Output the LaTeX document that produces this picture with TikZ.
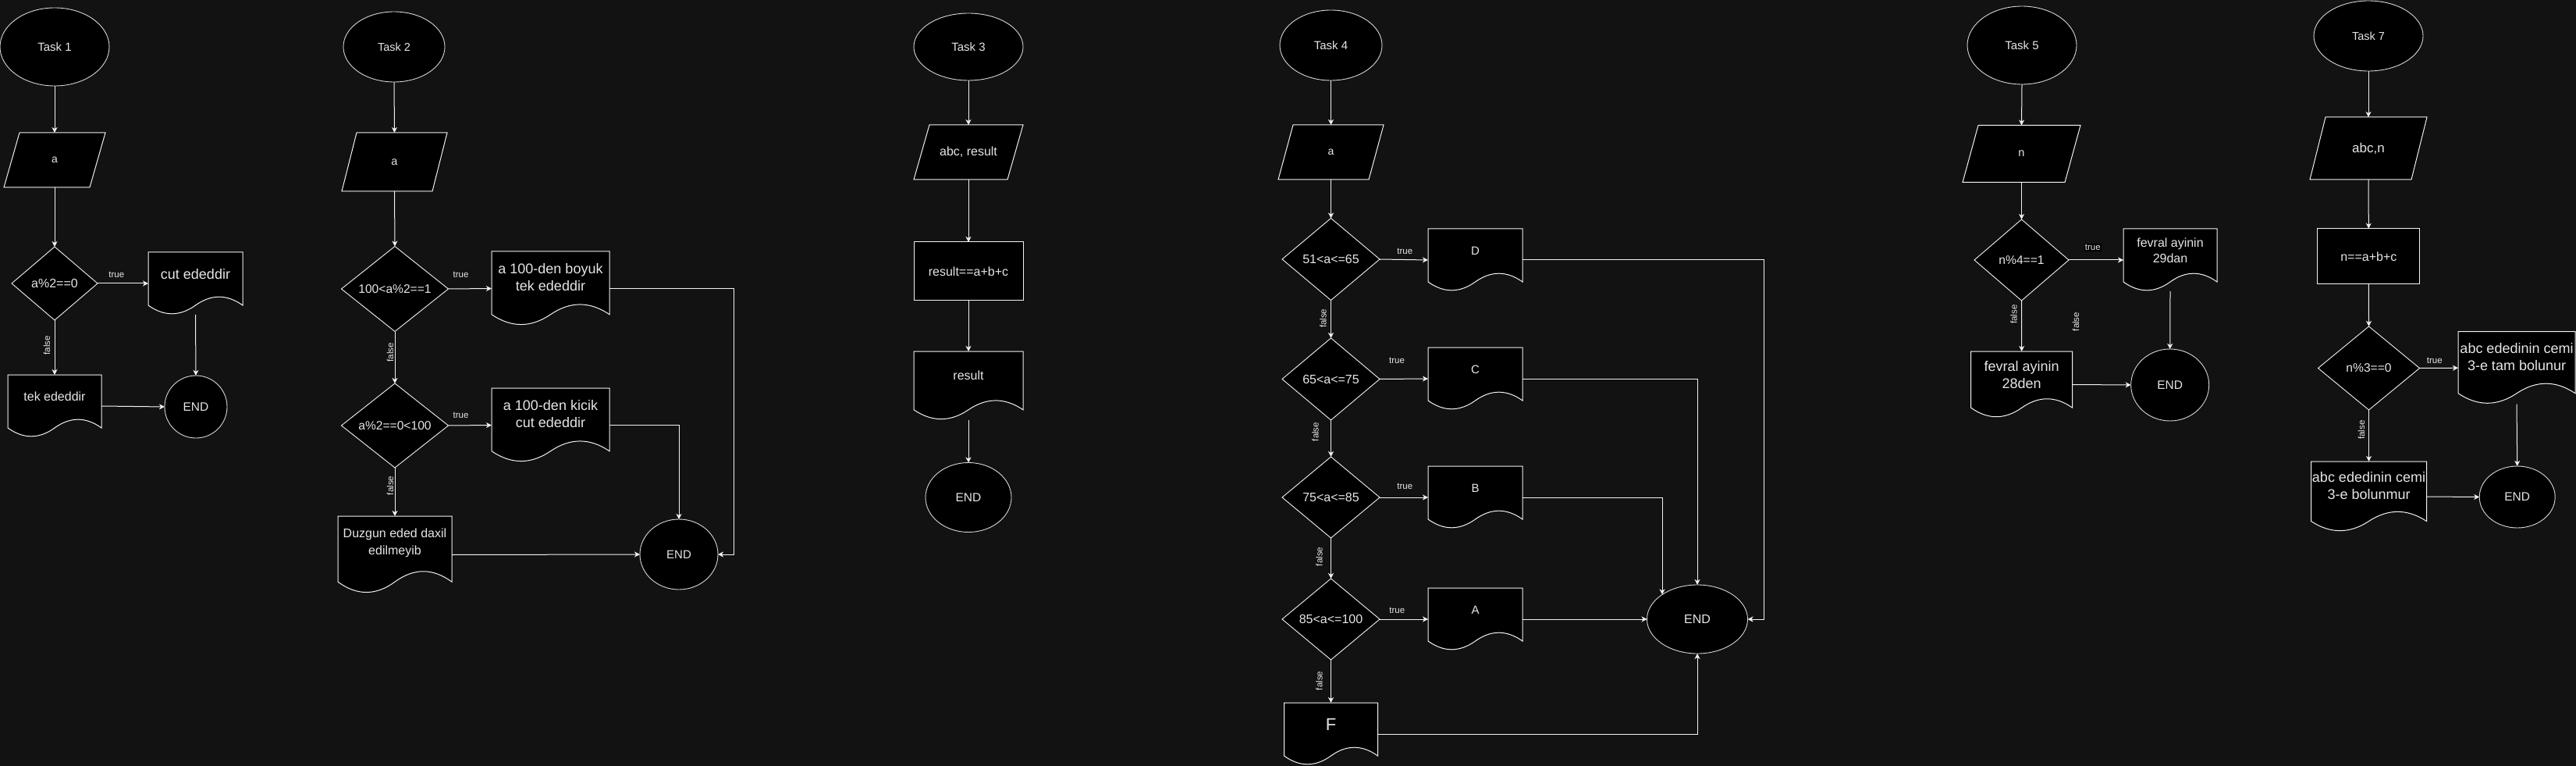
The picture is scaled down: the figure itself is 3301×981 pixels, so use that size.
\documentclass[tikz,border=0pt]{standalone}
\usepackage{fontspec}
\setmainfont{Liberation Sans}
\usetikzlibrary{shapes.geometric,arrows.meta,calc}
\pgfdeclarelayer{bgpage}
\pgfdeclarelayer{behind}
\pgfsetlayers{bgpage,behind,main}
\definecolor{bgc}{HTML}{121212}
\definecolor{ln}{HTML}{F2F2F2}
\definecolor{txt}{HTML}{E6E6E6}
\definecolor{elln}{HTML}{D6D6D6}
\tikzset{
  base/.style={fill=black, text=txt, inner sep=0pt, outer sep=0pt, align=center},
  term/.style={base, ellipse, draw=elln, line width=0.9pt},
  proc/.style={base, rectangle, draw=ln, line width=1pt},
  dec/.style={base, diamond, aspect=1.3, draw=ln, line width=0.9pt},
  docbox/.style={inner sep=0pt, outer sep=0pt, draw=none, fill=none},
  iobox/.style={text=txt, inner sep=0pt, outer sep=0pt, draw=none, fill=none, align=center},
  doctext/.style={text=txt, inner sep=0pt, align=center},
  docline/.style={draw=ln, fill=black, line width=1pt},
  ioline/.style={draw=ln, fill=black, line width=1pt, line join=miter},
  arr/.style={draw=ln, line width=1pt, -{Stealth[length=7pt,width=7pt,inset=2pt]}},
  lbl/.style={text=txt, inner sep=0pt, font=\fontsize{11.5}{13}\selectfont},
  vlbl/.style={lbl, rotate=90},
}
\newcommand\docnode[8]{%
  \node[docbox, minimum width=#4pt, minimum height=#5pt] (#1) at (#2,{#3+#5/2}) {};
  \node[doctext, font=\fontsize{#6}{#7}\selectfont] (#1t) at (#2,{#3+0.35*#5}) {#8};
  \begin{pgfonlayer}{behind}
  \draw[docline] ({#2-#4/2},#3) -- ({#2+#4/2},#3) -- ({#2+#4/2},{#3+0.85*#5})
    .. controls ({#2+#4/3},{#3+0.67*#5}) and ({#2+#4/6},{#3+0.67*#5}) .. (#2,{#3+0.85*#5})
    .. controls ({#2-#4/6},{#3+1.03*#5}) and ({#2-#4/3},{#3+1.03*#5}) .. ({#2-#4/2},{#3+0.85*#5}) -- cycle;
  \end{pgfonlayer}}
\newcommand\ionode[8]{%
  \node[iobox, minimum width=#4pt, minimum height=#5pt, font=\fontsize{#7}{20}\selectfont] (#1) at (#2,#3) {#8};
  \begin{pgfonlayer}{behind}
  \draw[ioline] ({#2-#4/2+#6},{#3-#5/2}) -- ({#2+#4/2},{#3-#5/2}) -- ({#2+#4/2-#6},{#3+#5/2}) -- ({#2-#4/2},{#3+#5/2}) -- cycle;
  \end{pgfonlayer}}
\begin{document}
\begin{tikzpicture}[x=1pt,y=-1pt]
\begin{pgfonlayer}{bgpage}
\fill[bgc] (0,0) rectangle (3301,981);
\end{pgfonlayer}
\useasboundingbox (0,0) rectangle (3301,981);

% ---------------- Task 1
\node[term, minimum width=140pt, minimum height=100pt, font=\fontsize{15}{18}\selectfont] (s1) at (70,60) {Task 1};
\ionode{i1}{70}{205}{130}{70}{20}{14}{a}
\node[dec, minimum width=110pt, minimum height=94pt, font=\fontsize{16}{19}\selectfont] (d1) at (70,363) {a\%2==0};
\docnode{c1}{250.5}{323}{121}{80}{18}{22}{cut ededdir}
\docnode{k1}{70}{480}{120}{80}{16}{19}{tek ededdir}
\node[term, minimum width=80pt, minimum height=80pt, font=\fontsize{15.5}{18}\selectfont] (e1) at (251,521) {END};
\draw[arr] (s1.south) -- (i1.north);
\draw[arr] (i1.south) -- (d1.north);
\draw[arr] (d1.east) -- node[lbl, pos=0.375, yshift=11pt] (l1a) {true} (c1.west);
\draw[arr] (d1.south) -- node[xshift=-10pt, vlbl, pos=0.46] (l1b) {false} (k1.north);
\draw[arr] (c1.south) -- (e1.north);
\draw[arr] (k1.east) -- (e1.west);

% ---------------- Task 2
\coordinate (t2r) at (940,0);
\node[term, minimum width=130pt, minimum height=90pt, font=\fontsize{14.5}{18}\selectfont] (s2) at (505,60) {Task 2};
\ionode{i2}{505.5}{207.5}{135}{75}{19}{14.5}{a}
\node[dec, minimum width=137pt, minimum height=109pt, font=\fontsize{15.6}{19}\selectfont] (d2a) at (506,370) {100<a\%2==1};
\node[dec, minimum width=137pt, minimum height=108pt, font=\fontsize{15.6}{19}\selectfont] (d2b) at (506,545) {a\%2==0<100};
\docnode{p2a}{705.5}{322}{151}{95}{18}{22}{a 100-den boyuk\\tek ededdir}
\docnode{p2b}{705.5}{497}{151}{95}{18}{22}{a 100-den kicik\\cut ededdir}
\docnode{p2c}{506}{661}{146}{99}{16}{22}{Duzgun eded daxil\\edilmeyib}
\node[term, minimum width=100pt, minimum height=90pt, font=\fontsize{15}{18}\selectfont] (e2) at (870,710) {END};
\draw[arr] (s2.south) -- (i2.north);
\draw[arr] (i2.south) -- (d2a.north);
\draw[arr] (d2a.east) -- node[lbl, pos=0.29, yshift=18pt] (l2a) {true} (p2a.west);
\draw[arr] (d2a.south) -- node[xshift=-6pt, vlbl, pos=0.4] (l2b) {false} (d2b.north);
\draw[arr] (d2b.east) -- node[lbl, pos=0.29, yshift=13pt] (l2c) {true} (p2b.west);
\draw[arr] (d2b.south) -- node[xshift=-6pt, vlbl, pos=0.37] (l2d) {false} (p2c.north);
\draw[arr] (p2a.east) -- (p2a.east -| t2r) -- (t2r |- e2.east) -- (e2.east);
\draw[arr] (p2b.east) -| (e2.north);
\draw[arr] (p2c.east) -- (e2.west);

% ---------------- Task 3
\node[term, minimum width=140pt, minimum height=86pt, font=\fontsize{15}{18}\selectfont] (s3) at (1241,60) {Task 3};
\ionode{i3}{1241}{195}{140}{70}{20}{16}{abc, result}
\node[proc, minimum width=140pt, minimum height=75pt, font=\fontsize{16}{19}\selectfont] (r3) at (1241,347.5) {result==a+b+c};
\docnode{o3}{1241}{450}{140}{88}{16}{19}{result}
\node[term, minimum width=110pt, minimum height=89pt, font=\fontsize{15.5}{18}\selectfont] (e3) at (1241,637) {END};
\draw[arr] (s3.south) -- (i3.north);
\draw[arr] (i3.south) -- (r3.north);
\draw[arr] (r3.south) -- (o3.north);
\draw[arr] (o3.south) -- (e3.north);

% ---------------- Task 4
\coordinate (t4r) at (2260,0);
\node[term, minimum width=131pt, minimum height=90pt, font=\fontsize{15}{18}\selectfont] (s4) at (1705.5,58) {Task 4};
\ionode{i4}{1705.5}{195}{135}{70}{19}{14}{a}
\node[dec, minimum width=125pt, minimum height=105pt, font=\fontsize{16}{19}\selectfont] (q1) at (1705.5,332) {51<a<=65};
\node[dec, minimum width=125pt, minimum height=105pt, font=\fontsize{16}{19}\selectfont] (q2) at (1705.5,485.5) {65<a<=75};
\node[dec, minimum width=125pt, minimum height=104pt, font=\fontsize{16}{19}\selectfont] (q3) at (1705.5,637) {75<a<=85};
\node[dec, minimum width=125pt, minimum height=104pt, font=\fontsize{16}{19}\selectfont] (q4) at (1705.5,793) {85<a<=100};
\docnode{pD}{1890.5}{293}{121}{80}{15}{18}{D}
\docnode{pC}{1890.5}{445}{121}{80}{15}{18}{C}
\docnode{pB}{1890.5}{597}{121}{80}{15}{18}{B}
\docnode{pA}{1890.5}{753}{121}{80}{15}{18}{A}
\docnode{pF}{1705.5}{900}{120}{80}{22}{26}{F}
\node[term, minimum width=129pt, minimum height=88pt, font=\fontsize{16}{19}\selectfont] (e4) at (2175,793) {END};
\draw[arr] (s4.south) -- (i4.north);
\draw[arr] (i4.south) -- (q1.north);
\draw[arr] (q1.east) -- node[lbl, pos=0.52, yshift=11pt] (l4a) {true} (pD.west);
\draw[arr] (q1.south) -- node[xshift=-10pt, vlbl, pos=0.48] (l4b) {false} (q2.north);
\draw[arr] (q2.east) -- node[lbl, pos=0.355, yshift=23pt] (l4c) {true} (pC.west);
\draw[arr] (q2.south) -- node[xshift=-20pt, vlbl, pos=0.32] (l4d) {false} (q3.north);
\draw[arr] (q3.east) -- node[lbl, pos=0.52, yshift=14pt] (l4e) {true} (pB.west);
\draw[arr] (q3.south) -- node[xshift=-15pt, vlbl, pos=0.46] (l4f) {false} (q4.north);
\draw[arr] (q4.east) -- node[lbl, pos=0.36, yshift=11pt] (l4g) {true} (pA.west);
\draw[arr] (q4.south) -- node[xshift=-15pt, vlbl, pos=0.49] (l4h) {false} (pF.north);
\draw[arr] (pD.east) -- (pD.east -| t4r) -- (t4r |- e4.east) -- (e4.east);
\draw[arr] (pC.east) -| (e4.north);
\draw[arr] (pB.east) -| (e4.145);
\draw[arr] (pA.east) -- (e4.west);
\draw[arr] (pF.east) -| (e4.south);

% ---------------- Task 5
\node[term, minimum width=140pt, minimum height=100pt, font=\fontsize{15}{18}\selectfont] (s5) at (2591,58) {Task 5};
\ionode{i5}{2590.5}{197}{151}{73}{20}{14.5}{n}
\node[dec, minimum width=121pt, minimum height=104pt, font=\fontsize{15.6}{19}\selectfont] (d5) at (2590.5,333) {n\%4==1};
\docnode{y29}{2781}{293}{120}{80}{16}{19.5}{fevral ayinin\\29dan}
\docnode{y28}{2590.7}{450}{130}{85}{18}{22}{fevral ayinin\\28den}
\node[term, minimum width=100pt, minimum height=92pt, font=\fontsize{15.5}{18}\selectfont] (e5) at (2780.7,493) {END};
\draw[arr] (s5.south) -- (i5.north);
\draw[arr] (i5.south) -- (d5.north);
\draw[arr] (d5.east) -- node[lbl, pos=0.44, yshift=16pt, fill=black, inner sep=1pt] (l5a) {true} (y29.west);
\draw[arr] (d5.south) -- node[xshift=-10pt, vlbl, pos=0.27] (l5b) {false} (y28.north);
\draw[arr] (y29.south) -- (e5.north);
\draw[arr] (y28.east) -- (e5.west);
\node[vlbl] (l5c) at (2660,412) {false};

% ---------------- Task 7
\node[term, minimum width=140pt, minimum height=90pt, font=\fontsize{14.5}{18}\selectfont] (s7) at (3035,46) {Task 7};
\ionode{i7}{3035}{190}{150}{80}{20}{17}{abc,n}
\node[proc, minimum width=131pt, minimum height=71pt, font=\fontsize{16}{19}\selectfont] (r7) at (3035.3,328.3) {n==a+b+c};
\node[dec, minimum width=130pt, minimum height=107pt, font=\fontsize{15.6}{19}\selectfont] (d7) at (3035.5,471.5) {n\%3==0};
\docnode{t7a}{3225}{424.7}{150}{93}{18}{22}{abc ededinin cemi\\3-e tam bolunur}
\docnode{t7b}{3035.5}{591}{148}{90}{18}{22}{abc ededinin cemi\\3-e bolunmur}
\node[term, minimum width=97pt, minimum height=79pt, font=\fontsize{15.5}{18}\selectfont] (e7) at (3225.7,636.5) {END};
\draw[arr] (s7.south) -- (i7.north);
\draw[arr] (i7.south) -- (r7.north);
\draw[arr] (r7.south) -- (d7.north);
\draw[arr] (d7.east) -- node[lbl, pos=0.39, yshift=9.5pt] (l7a) {true} (t7a.west);
\draw[arr] (d7.south) -- node[xshift=-9.5pt, vlbl, pos=0.39] (l7b) {false} (t7b.north);
\draw[arr] (t7a.south) -- (e7.north);
\draw[arr] (t7b.east) -- (e7.west);
\end{tikzpicture}
\end{document}
